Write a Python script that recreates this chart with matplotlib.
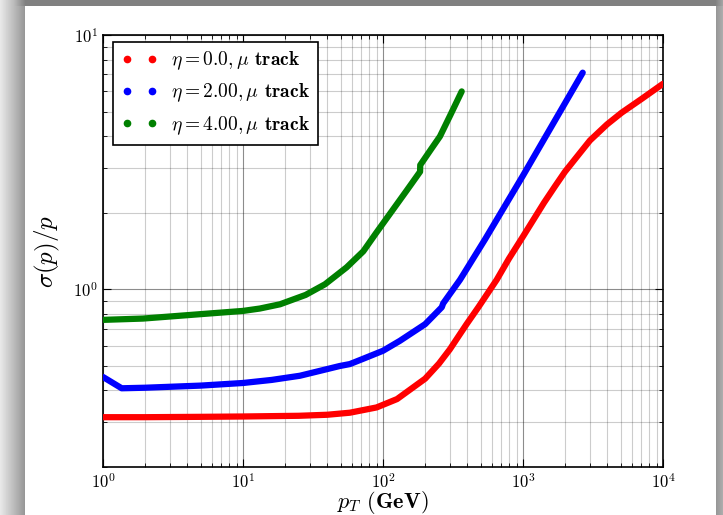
import numpy as np
import matplotlib
matplotlib.use("Agg")
import matplotlib.pyplot as plt
from matplotlib.lines import Line2D

plt.rcParams['mathtext.fontset'] = 'cm'
plt.rcParams['font.family'] = 'serif'
plt.rcParams['font.serif'] = ['cmr10', 'DejaVu Serif']
plt.rcParams['axes.formatter.use_mathtext'] = True

# values (pT in GeV, sigma(p)/p)
pt_eta0 = [1, 2, 5, 10, 25, 40, 58, 90, 126, 158, 200, 251, 300, 396, 480, 649, 794, 1005, 1413,
           1700, 1995, 2512, 3010, 3981, 5070, 7079, 10000]
res_eta0 = [0.314, 0.314, 0.315, 0.316, 0.318, 0.321, 0.327, 0.343, 0.37, 0.405, 0.445, 0.51, 0.58,
            0.73, 0.85, 1.09, 1.32, 1.62, 2.19, 2.55, 2.9, 3.4, 3.85, 4.45, 4.95, 5.62, 6.43]

pt_eta2 = [1, 1.36, 2, 5, 10, 16, 25.5, 49, 58, 71, 100, 132, 200, 263, 269, 355, 535, 1000, 1322, 2670]
res_eta2 = [0.452, 0.408, 0.410, 0.418, 0.428, 0.440, 0.457, 0.499, 0.508, 0.531, 0.573, 0.627,
            0.729, 0.85, 0.88, 1.09, 1.57, 2.8, 3.65, 7.11]

pt_eta4 = [1, 1.93, 4.93, 10, 13.2, 18.4, 28, 38.5, 55, 72.3, 89, 118, 148, 184, 184.5, 224, 255,
           302, 365]
res_eta4 = [0.758, 0.767, 0.798, 0.822, 0.84, 0.873, 0.95, 1.046, 1.22, 1.41, 1.66, 2.06, 2.45,
            2.9, 3.08, 3.6, 3.99, 4.83, 6.0]

labels = [r'$\eta = 0.0, \mu$ $\mathbf{track}$',
          r'$\eta = 2.00, \mu$ $\mathbf{track}$',
          r'$\eta = 4.00, \mu$ $\mathbf{track}$']
colors = ['red', 'blue', 'green']

W, H = 723, 515
fig = plt.figure(figsize=(W / 100, H / 100), dpi=100)

# drop-shadow frame around the white card
bg = fig.add_axes([0, 0, 1, 1], zorder=-10)
xx, yy = np.meshgrid(np.arange(W), np.arange(H))
cx0, cx1, cy0 = 25, 715, 6
dx = np.maximum(np.maximum(cx0 - xx, xx - cx1), 0)
dy = np.maximum(cy0 - yy, 0)
inside = (xx >= cx0) & (xx <= cx1) & (yy >= cy0)
shade = np.clip(0.58 + 0.33 * dx / 25.0, 0, 0.92)
shade = np.where(dy > 0, np.minimum(shade, 0.5 + 0.02 * dx), shade)
shade = np.where(inside, 1.0, shade)
bg.imshow(shade, cmap='gray', vmin=0, vmax=1, extent=[0, W, H, 0], aspect='auto', interpolation='bilinear')
bg.set_axis_off()

ax = fig.add_axes([103 / W, 1 - 467 / H, 560 / W, 432 / H])
for x, y, c in zip([pt_eta0, pt_eta2, pt_eta4], [res_eta0, res_eta2, res_eta4], colors):
    ax.plot(x, y, color=c, lw=4.5, solid_capstyle='round', solid_joinstyle='round', zorder=3)

ax.set_xscale('log')
ax.set_yscale('log')
ax.set_xlim(1, 1e4)
ax.set_ylim(0.2, 10)
ax.grid(True, which='major', color='black', alpha=0.45, lw=0.8)
ax.grid(True, which='minor', color='black', alpha=0.2, lw=0.8)
ax.tick_params(which='both', direction='in', top=True, right=True, labelsize=12)
ax.tick_params(which='major', length=6)
ax.tick_params(which='minor', length=3)
for s in ax.spines.values():
    s.set_linewidth(1.2)

ax.set_xlabel(r'$p_T$ $\mathbf{(GeV)}$', fontsize=16, labelpad=-1)
ax.set_ylabel(r'$\sigma(p)/p$', fontsize=18, labelpad=8)

handles = [Line2D([], [], color=c, marker='.', linestyle='None', markersize=9) for c in colors]
leg = ax.legend(handles, labels, loc='upper left', numpoints=2, fontsize=14, fancybox=False,
                framealpha=1, edgecolor='black', borderpad=0.4, handlelength=1.9,
                handletextpad=0.7, borderaxespad=0, bbox_to_anchor=(0.018, 0.984))
leg.get_frame().set_linewidth(1.2)

fig.savefig('out.png', dpi=100)
